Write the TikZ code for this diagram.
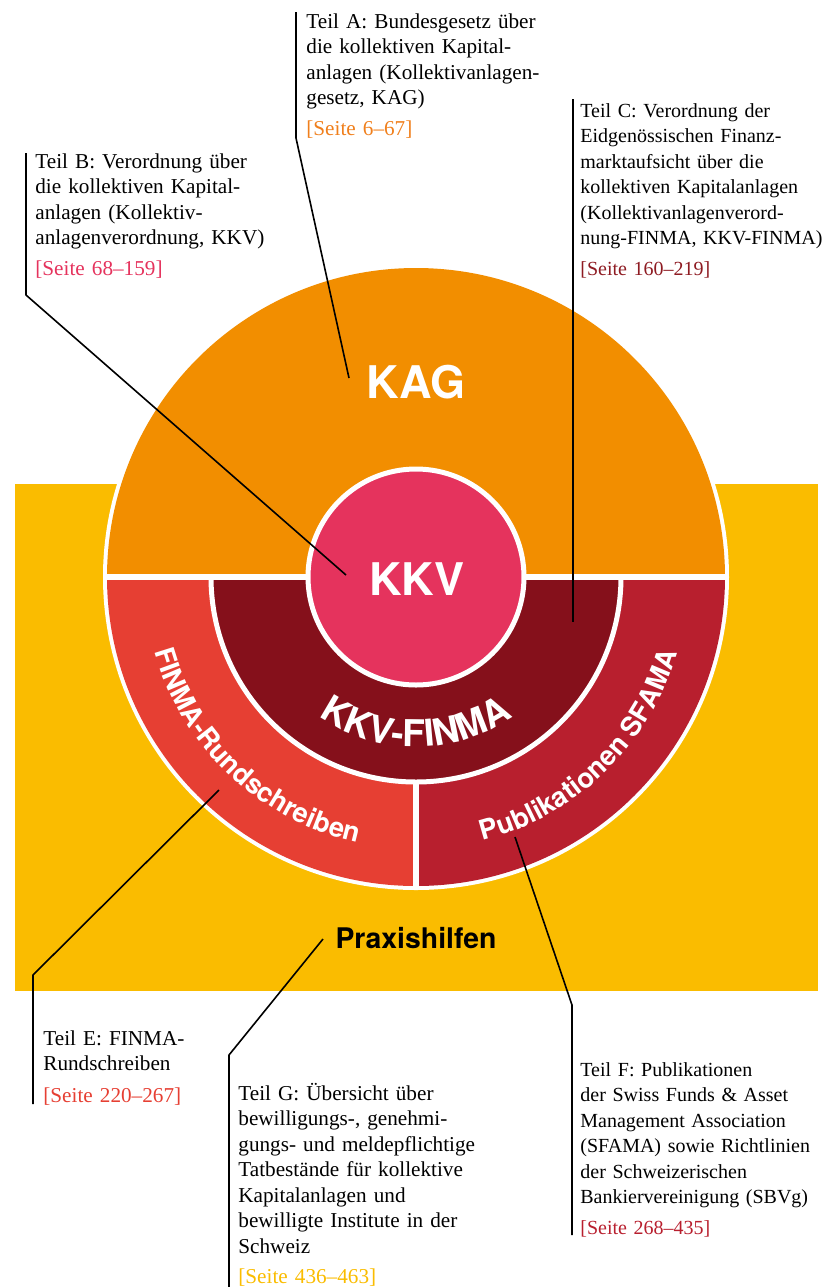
\documentclass[tikz,border=0pt]{standalone}
\usepackage{fontspec}
\setmainfont{Liberation Serif}
\setsansfont{TeX Gyre Heros}
\usepackage{xcolor}
\usetikzlibrary{decorations.text}

\definecolor{praxisyellow}{HTML}{FABC00}
\definecolor{kagorange}{HTML}{F28E00}
\definecolor{kkvpink}{HTML}{E5335D}
\definecolor{kkvfinma}{HTML}{85101B}
\definecolor{finmared}{HTML}{E63F33}
\definecolor{sfamared}{HTML}{B81F2E}
\definecolor{seiteA}{HTML}{F07F1C}
\definecolor{seiteC}{HTML}{8E1B22}

\newcommand\ringlabel[1]{|\sffamily\bfseries\fontsize{13.6}{13.6}\selectfont\color{white}|#1}

\tikzset{
  teil/.style={anchor=base west,inner sep=0pt,align=left,text width=135pt,
    font=\fontsize{10.6}{12.75}\selectfont},
  narrowteil/.style={teil,font=\fontsize{10}{12.75}\selectfont},
  bigtag/.style={anchor=base,inner sep=0pt,text=white,
    font=\sffamily\bfseries\fontsize{22.5}{22.5}\selectfont},
  leader/.style={draw=black,line width=0.8pt,line join=round},
  divider/.style={draw=white,line width=2.75pt}
}

\begin{document}
\begin{tikzpicture}[x=0.5pt,y=0.5pt]
  \useasboundingbox (0,0) rectangle (824,-1287);

  % Praxishilfen
  \fill[praxisyellow] (15,-484) rectangle (818,-991);

  \begin{scope}[shift={(416,-577)}]
    \fill[white] (0,0) circle[radius=313];
    \fill[kagorange] (0:309) arc[start angle=0,end angle=180,radius=309] -- cycle;
    \fill[finmared] (0,0) -- (180:309) arc[start angle=180,end angle=270,radius=309] -- cycle;
    \fill[sfamared] (0,0) -- (270:309) arc[start angle=270,end angle=360,radius=309] -- cycle;
    \filldraw[fill=kkvfinma,draw=white,line width=2.5pt]
      (180:205) arc[start angle=180,end angle=360,radius=205] -- cycle;
    \draw[divider] (180:311) -- (0:311);
    \draw[divider] (270:205) -- (270:311);
    \filldraw[fill=kkvpink,draw=white,line width=2.5pt] (0,0) circle[radius=108];

    % curved labels
    \path[decorate,decoration={text along path,text align=center,
      text={|\sffamily\bfseries\fontsize{18.5}{18.5}\selectfont\color{white}|KKV-FINMA}}]
      (210:170) arc[start angle=210,end angle=330,radius=170];
    \path[decorate,decoration={text along path,text align=center,
      text={\ringlabel{FINMA-Rundschreiben}}}]
      (183.7:272) arc[start angle=183.7,end angle=269.7,radius=272];
    \path[decorate,decoration={text along path,text align=center,
      text={\ringlabel{Publikationen SFAMA}}}]
      (271:272) arc[start angle=271,end angle=357,radius=272];
  \end{scope}

  \node[bigtag] (kag) at (416,-398) {KAG};
  \node[bigtag] (kkv) at (417,-595) {KKV};
  \node[anchor=base,inner sep=0pt,font=\sffamily\bfseries\fontsize{14.2}{14.2}\selectfont]
    (praxis) at (416,-948) {Praxishilfen};

  % Teile
  \node[teil] (teilA) at (306,-28) {Teil A: Bundesgesetz über\\die kollektiven Kapital-\\anlagen (Kollektivanlagen-\\gesetz, KAG)\\[2.5pt]\textcolor{seiteA}{[Seite 6–67]}};
  \node[teil] (teilB) at (35,-168) {Teil B: Verordnung über\\die kollektiven Kapital-\\anlagen (Kollektiv-\\anlagenverordnung, KKV)\\[2.5pt]\textcolor{kkvpink}{[Seite 68–159]}};
  \node[narrowteil] (teilC) at (580,-117) {Teil C: Verordnung der\\Eidgenössischen Finanz-\\marktaufsicht über die\\kollektiven Kapitalanlagen\\(Kollektivanlagenverord-\\nung-FINMA, KKV-FINMA)\\[2.5pt]\textcolor{seiteC}{[Seite 160–219]}};
  \node[teil] (teilE) at (43,-1045) {Teil E: FINMA-\\Rundschreiben\\[3pt]\textcolor{finmared}{[Seite 220–267]}};
  \node[teil] (teilG) at (238,-1100) {Teil G: Übersicht über\\bewilligungs-, genehmi-\\gungs- und meldepflichtige\\Tatbestände für kollektive\\Kapitalanlagen und\\bewilligte Institute in der\\Schweiz\\[2.5pt]\textcolor{praxisyellow}{[Seite 436–463]}};
  \node[narrowteil] (teilF) at (580,-1076) {Teil F: Publikationen\\der Swiss Funds \& Asset\\Management Association\\(SFAMA) sowie Richtlinien\\der Schweizerischen\\Bankiervereinigung (SBVg)\\[2.5pt]\textcolor{sfamared}{[Seite 268–435]}};

  % leader lines
  \coordinate (barA) at (296,-12);   \coordinate (kneeA) at (296,-138); \coordinate (tipA) at (349,-378);
  \coordinate (barB) at (26,-153);   \coordinate (kneeB) at (26,-295);  \coordinate (tipB) at (346,-575);
  \coordinate (barC) at (573,-99);   \coordinate (tipC) at (573,-622);
  \coordinate (tipE) at (219,-790);  \coordinate (kneeE) at (33,-975);  \coordinate (barE) at (33,-1104);
  \coordinate (tipG) at (323,-939);  \coordinate (kneeG) at (229,-1055); \coordinate (barG) at (229,-1287);
  \coordinate (tipF) at (515,-837);  \coordinate (kneeF) at (572,-1005); \coordinate (barF) at (572,-1235);

  \draw[leader] (barA) -- (kneeA) -- (tipA);
  \draw[leader] (barB) -- (kneeB) -- (tipB);
  \draw[leader] (barC) -- (tipC);
  \draw[leader] (tipE) -- (kneeE) -- (barE);
  \draw[leader] (tipG) -- (kneeG) -- (barG);
  \draw[leader] (tipF) -- (kneeF) -- (barF);
\end{tikzpicture}
\end{document}
